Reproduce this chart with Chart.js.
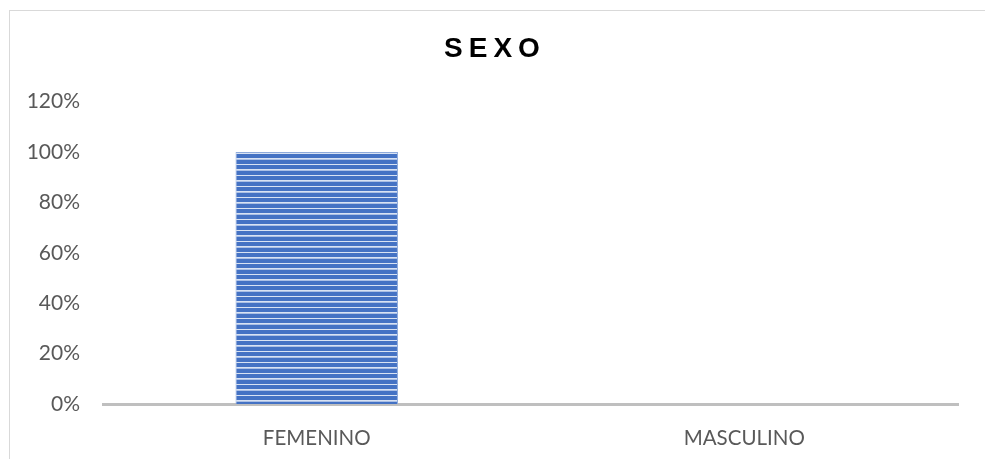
<!DOCTYPE html>
<html>
<head>
<meta charset="utf-8">
<script src="https://cdn.jsdelivr.net/npm/chart.js@4/dist/chart.umd.min.js"></script>
<style>
html,body{margin:0;padding:0;background:#fff;overflow:hidden;}
#wrap{position:absolute;left:0;top:0;width:985px;height:459px;}
</style>
</head>
<body>
<div id="wrap"><canvas id="c" width="985" height="459"></canvas></div>
<script>
const categories = ['FEMENINO', 'MASCULINO'];
const values = [100, 0];
const yTicks = [0, 20, 40, 60, 80, 100, 120];
const chartTitle = 'SEXO';

function stripePattern() {
  const p = document.createElement('canvas');
  p.width = 1; p.height = 11;
  const g = p.getContext('2d');
  g.fillStyle = '#4472c4'; g.fillRect(0, 0, 1, 11);
  g.fillStyle = '#d8e2f3'; g.fillRect(0, 4, 1, 1);
  g.fillStyle = '#aabfe5'; g.fillRect(0, 5, 1, 1);
  g.fillStyle = '#d8e2f3'; g.fillRect(0, 10, 1, 1);
  return document.getElementById('c').getContext('2d').createPattern(p, 'repeat');
}

const frame = {
  id: 'frame',
  beforeDraw(chart) {
    const ctx = chart.ctx;
    ctx.save();
    ctx.fillStyle = '#fff';
    ctx.fillRect(0, 0, chart.width, chart.height);
    ctx.strokeStyle = '#d9d9d9';
    ctx.lineWidth = 1;
    ctx.strokeRect(9.5, 10.5, 1200, 1200);
    ctx.restore();
  }
};

const spacedTitle = {
  id: 'spacedTitle',
  afterLayout(chart) {
    const tb = chart.titleBlock;
    if (tb && !tb._spaced) {
      const orig = tb.draw.bind(tb);
      tb.draw = function () {
        const ctx = chart.ctx;
        ctx.save();
        ctx.letterSpacing = '6px';
        ctx.translate(6, 0);
        orig();
        ctx.restore();
      };
      tb._spaced = true;
    }
  }
};

new Chart(document.getElementById('c'), {
  type: 'bar',
  data: {
    labels: categories,
    datasets: [{
      data: values,
      backgroundColor: stripePattern(),
      borderColor: '#8eaadb',
      borderWidth: 1,
      barPercentage: 0.38,
      categoryPercentage: 1
    }]
  },
  plugins: [frame, spacedTitle],
  options: {
    responsive: false,
    animation: false,
    layout: { padding: { left: 20, right: 27, top: 0, bottom: 0 } },
    plugins: {
      legend: { display: false },
      tooltip: { enabled: false },
      title: {
        display: true,
        text: chartTitle,
        color: '#000000',
        font: { family: 'Liberation Sans', size: 28, weight: 'bold', lineHeight: 1.2 },
        padding: { top: 32, bottom: 36 }
      }
    },
    scales: {
      x: {
        afterFit(scale) { scale.height = 55; },
        grid: { display: false, drawTicks: false },
        border: { display: true, color: '#bfbfbf', width: 3 },
        ticks: { color: '#595959', padding: 22, font: { family: 'Lato', size: 20.5 } }
      },
      y: {
        min: 0, max: 120,
        afterBuildTicks(scale) { scale.ticks = yTicks.map(v => ({ value: v })); },
        afterFit(scale) { scale.width = 83; },
        grid: { display: false, drawTicks: false },
        border: { display: false },
        ticks: { color: '#595959', padding: 23, font: { family: 'Lato', size: 21 },
                 callback: v => v + '%' }
      }
    }
  }
});
</script>
</body>
</html>
